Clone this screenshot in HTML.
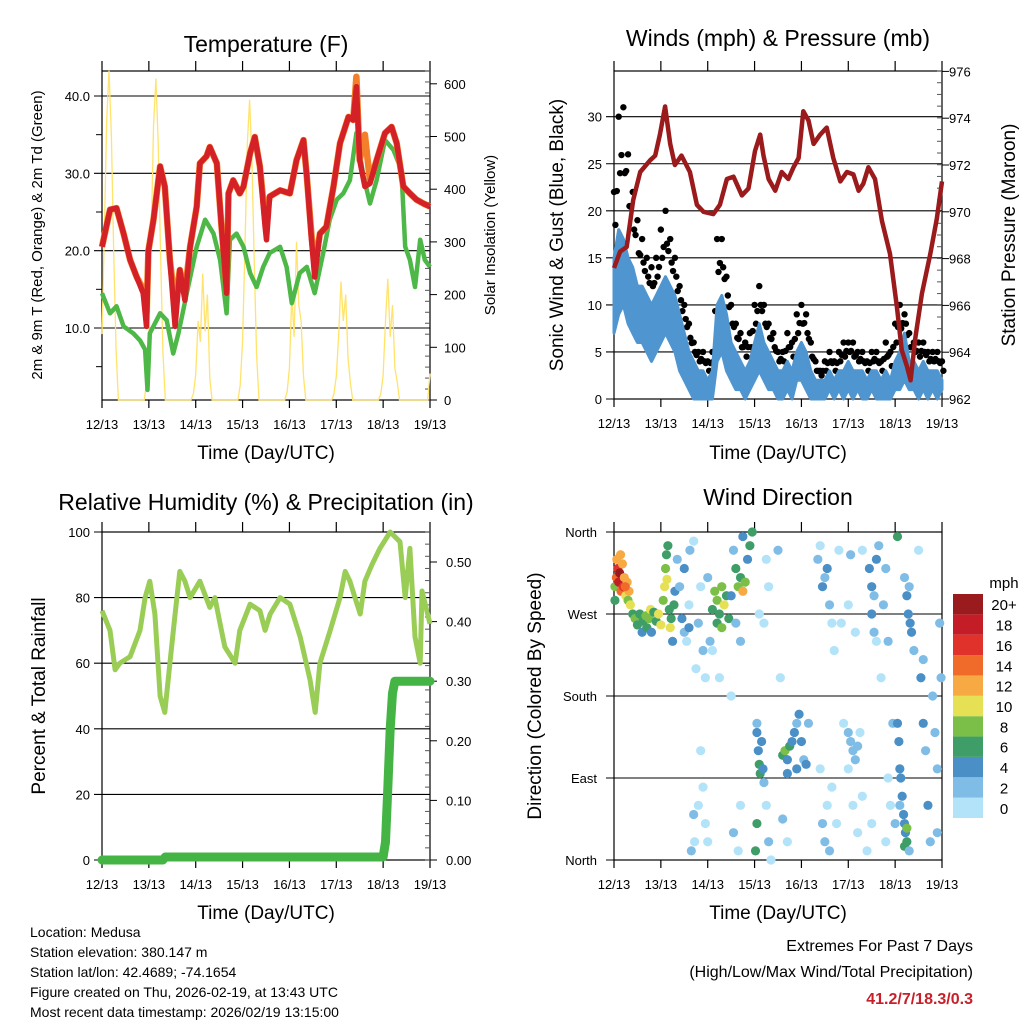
<!DOCTYPE html>
<html><head><meta charset="utf-8"><style>
body{margin:0;background:#fff}
svg{display:block;font-family:"Liberation Sans",sans-serif}
</style></head><body>
<svg id="s" width="1024" height="1024" viewBox="0 0 1024 1024">
<rect width="1024" height="1024" fill="#fff"/>
</svg>
<script>
// ---------- Temperature ----------
const tempTime=[0,.17,.31,.46,.6,.74,.88,.95,.99,1.1,1.24,1.34,1.45,1.56,1.66,1.77,1.88,2.02,2.09,2.23,2.3,2.45,2.55,2.66,2.7,2.8,2.94,3.02,3.16,3.26,3.37,3.48,3.51,3.58,3.8,4.01,4.15,4.3,4.37,4.47,4.54,4.65,4.79,4.94,5.08,5.26,5.36,5.43,5.5,5.61,5.72,5.86,6.04,6.18,6.29,6.43,6.57,6.71,6.86,7];
const tempRed=[20.5,25.3,25.5,22.2,18.8,16.6,14.5,10.2,20,24,30.9,28.3,18.8,10.2,17.5,13.6,20.5,25.7,31.3,32.2,33.4,31.3,23.1,14.5,27.4,29.1,27.4,28.3,32.6,34.7,30.9,23.1,21.4,27,27.8,27.4,31.7,34.3,29.6,21.4,16.6,22.2,23.1,28.3,33.9,37.3,36.9,41.2,31.7,28.3,28.7,31.7,35.2,36,33.9,28.3,27.4,26.6,26.1,25.7];
const tempOrange=[20.5,25.3,25.5,22.2,18.8,16.6,15,12,20,24,30.9,28.3,18.8,13,17.5,14.5,20.5,25.7,31.3,32.2,33.4,31.3,23.1,15,27.4,29.1,27.4,28.3,32.6,34.7,30.9,24,25,27,27.8,27.4,31.7,34.3,29.6,22,18,22.2,23.1,28.3,33.9,37.3,36.9,42.5,31.7,35,29,31.7,35.2,36,33.9,28.3,27.4,26.6,26.1,25.7];
const dewTime=[0,.17,.31,.46,.67,.81,.92,.97,1.02,1.24,1.38,1.52,1.63,1.81,2.02,2.2,2.38,2.52,2.66,2.73,2.87,3.02,3.16,3.3,3.44,3.58,3.8,3.94,4.05,4.22,4.37,4.54,4.72,4.86,5.01,5.15,5.29,5.43,5.58,5.72,5.86,6.04,6.22,6.39,6.47,6.57,6.68,6.79,6.89,7];
const dewPoint=[14.5,11.9,12.8,10.2,9.3,8.4,7.2,2,9.3,11.9,11,6.7,9.3,14.5,20.5,24,22.2,18.8,11.9,21.4,22.2,20.5,17.1,15.3,17.9,19.7,20.5,17.9,13.2,17.1,17.9,14.5,19.7,24,26.6,27.4,29.1,35.2,29.6,26.1,29.1,34.3,33,30.4,20.5,18.8,15.3,21.4,18.8,17.9];
// solar every 0.05 day
const solar=[125,313,531,625,500,281,94,0,0,0,0,0,0,0,0,0,0,0,0,31,
122,305,519,610,488,275,92,0,0,0,0,0,0,0,0,0,0,0,0,12,
48,150,110,240,130,200,40,0,0,0,0,0,0,0,0,0,0,0,0,28,
114,285,485,570,456,257,86,0,0,0,0,0,0,0,0,0,0,0,0,15,
60,200,120,300,180,150,45,0,0,0,0,0,0,0,0,0,0,0,0,11,
45,120,225,150,200,80,34,0,0,0,0,0,0,0,0,0,0,0,0,12,
46,150,230,120,180,60,35,0,0,0,0,0,0,0,0,0,0,0,0,0,50];
const tempTicks=[10,20,30,40];
const solarTicks=[0,100,200,300,400,500,600];
const dayLabels=["12/13","13/13","14/13","15/13","16/13","17/13","18/13","19/13"];
// ---------- Winds ----------
const pressTime=[0,.13,.27,.41,.56,.77,.88,.98,1.09,1.2,1.3,1.44,1.62,1.77,1.91,2.12,2.26,2.41,2.55,2.73,2.87,3.01,3.12,3.19,3.3,3.44,3.58,3.72,3.83,3.94,4.04,4.15,4.26,4.4,4.54,4.68,4.83,4.97,5.11,5.22,5.32,5.43,5.57,5.72,5.89,6.04,6.14,6.25,6.33,6.43,6.57,6.75,6.89,7];
const pressure=[967.6,968.3,968.5,970.5,971.7,972.2,972.4,973.3,974.5,972.9,972,972.4,971.7,970.3,970,969.9,970.3,971.4,971.5,970.7,971,972.6,973.3,972.4,971.4,970.9,971.7,971.4,971.9,972.3,974.3,973.9,972.9,973.3,973.6,972.3,971.3,971.7,971.6,970.9,971.2,971.9,971.4,969.6,968.2,965.9,964.1,963.4,962.8,964.6,966.5,968.2,969.7,971.3];
// every 0.1 day
const windLo=[7,9,10,8,7,6,6,5,4,5,6,7,6,5,3,2,1,0,0,0,0,0,4,5,3,2,1,1,0,1,2,3,2,1,1,0,0,1,0,2,2,1,0,0,0,0,1,0,1,0,1,0,1,0,0,1,0,0,0,0,1,1,2,1,1,0,1,0,1,0,1];
const windHi=[15,18,17,15,14,12,12,11,10,11,12,13,12,11,9,7,5,4,3,3,2,3,10,11,9,6,5,4,3,4,6,8,6,5,4,3,3,4,3,5,6,5,3,2,2,2,3,2,3,3,4,3,3,3,2,3,3,2,3,2,4,5,7,4,4,3,4,3,3,3,2];
const gust=[22,30,31,26,22,19,17,15,14,15,18,20,17,15,12,10,8,6,5,5,4,5,17,17,13,10,8,7,6,7,10,12,10,8,7,5,5,7,6,9,10,9,6,4,3,4,5,4,5,6,6,6,5,5,4,5,5,4,6,5,8,10,9,7,6,6,6,5,5,5,4];
const windTicks=[0,5,10,15,20,25,30];
const pressTicks=[962,964,966,968,970,972,974,976];
// ---------- RH ----------
const rhTime=[0,.17,.28,.38,.6,.81,.92,1.02,1.13,1.24,1.34,1.45,1.56,1.66,1.77,1.88,2.09,2.3,2.41,2.52,2.62,2.84,2.94,3.16,3.37,3.48,3.59,3.8,4.01,4.23,4.44,4.55,4.65,4.87,5.08,5.19,5.29,5.4,5.51,5.61,5.76,5.93,6.15,6.36,6.47,6.57,6.68,6.79,6.83,7];
const rh=[76,70,58,60,62,70,80,85,75,50,45,60,75,88,85,80,85,77,80,72,65,60,70,78,76,70,75,80,78,68,55,45,60,70,80,88,85,80,75,85,90,95,100,97,80,95,68,60,82,72];
const precipTime=[0,1.3,1.35,6.0,6.05,6.1,6.15,6.2,6.25,7];
const precip=[0,0,0.005,0.005,0.03,0.12,0.22,0.28,0.3,0.3];
const rhTicks=[0,20,40,60,80,100];
const precipTicks=[0,0.1,0.2,0.3,0.4,0.5];
// ---------- Wind direction ----------
const dirTime=[0.02,0.05,0.08,0.1,0.12,0.15,0.18,0.2,0.22,0.25,0.28,0.3,0.32,0.35,0.02,0.06,0.14,0.24,
0.4,0.45,0.5,0.55,0.6,0.62,0.68,0.7,0.75,0.78,0.8,0.85,0.9,0.95,1.0,1.05,1.08,1.1,1.12,1.15,1.13,1.18,1.2,1.22,1.25,1.28,1.3,
1.35,1.4,1.45,1.5,1.55,1.6,1.62,1.7,1.75,1.8,1.85,1.9,1.95,1.5,1.6,1.7,1.72,1.65,1.9,1.8,2.0,1.95,1.85,
2.1,2.15,2.2,2.25,2.3,2.35,2.4,2.45,2.2,2.3,2.05,2.0,2.1,2.25,
2.6,2.65,2.7,2.75,2.8,2.85,2.9,2.95,2.75,2.55,2.6,2.5,2.7,2.5,2.65,2.55,2.7,
3.05,3.08,3.1,3.12,3.15,3.18,3.05,3.02,3.05,3.2,3.25,3.3,3.35,3.2,3.25,3.3,3.1,
3.6,3.65,3.7,3.75,3.8,3.85,3.9,3.95,4.0,4.05,4.1,4.15,3.7,3.9,3.6,3.7,3.5,3.55,
4.35,4.4,4.45,4.5,4.55,4.6,4.65,4.7,4.45,4.5,4.55,4.6,4.65,4.4,4.75,4.8,4.85,4.9,
5.0,5.05,5.1,5.15,5.2,5.25,5.0,5.1,5.2,5.3,5.0,5.05,5.15,5.3,
5.45,5.5,5.55,5.6,5.65,5.5,5.55,5.6,5.7,5.75,5.8,5.85,5.4,5.5,5.8,5.9,5.85,5.95,
6.05,6.08,6.1,6.12,6.15,6.18,6.2,6.22,6.25,6.2,6.25,6.1,6.0,6.3,6.05,6.25,6.28,6.3,6.32,6.35,6.4,6.2,
6.5,6.55,6.6,6.65,6.7,6.75,6.8,6.85,6.9,6.95,6.98,6.9,6.6];
const dirDeg=[300,310,320,305,315,295,325,300,310,290,305,285,295,280,285,330,335,300,
270,265,258,270,250,262,268,255,265,275,250,272,262,270,258,285,300,320,335,345,308,275,255,265,240,280,295,
330,300,265,250,240,280,340,350,210,260,300,230,200,320,255,50,20,10,80,60,20,40,120,
275,295,285,270,300,280,290,265,260,255,240,310,230,200,
320,300,310,295,305,330,345,360,355,340,260,290,240,180,10,30,60,
140,120,105,95,130,100,40,10,150,85,60,20,0,260,330,300,270,
115,120,110,125,130,140,150,160,130,110,105,150,95,100,45,20,340,200,
330,345,300,310,320,280,260,230,40,20,60,10,80,100,40,340,260,150,
140,130,120,110,125,140,100,60,30,70,280,335,250,340,
320,300,290,330,345,270,250,240,200,280,320,240,10,40,20,60,90,150,
150,130,100,90,70,50,40,30,20,15,35,60,40,10,355,290,270,300,260,250,230,310,
340,200,150,120,60,20,180,140,100,260,200,30,220];
const dirSpeed=[8,14,16,18,20,14,12,16,12,10,12,8,12,10,6,12,12,14,
6,8,6,6,4,6,8,6,8,10,4,6,6,10,10,8,10,8,6,6,10,6,10,6,4,6,4,
2,2,4,2,0,0,2,0,0,2,0,2,0,4,4,2,0,2,0,0,0,0,0,
6,8,8,6,8,10,6,6,6,8,2,2,0,0,
6,8,6,12,8,4,6,6,4,2,2,4,2,0,0,2,0,
4,4,6,6,4,4,6,6,2,2,0,2,0,0,0,0,0,
6,8,4,6,4,4,2,4,4,2,4,2,4,4,2,0,2,0,
2,0,4,2,4,2,0,0,2,2,0,2,0,0,0,0,0,0,
2,2,2,2,2,0,0,0,0,0,0,2,0,0,
4,4,2,4,2,4,2,0,0,2,2,2,0,0,0,0,0,2,
4,4,4,4,4,4,4,4,6,6,8,2,2,2,6,4,4,2,4,4,2,2,
0,4,4,2,4,2,2,2,2,2,2,2,2];
const speedColors=["#b3e3f8","#80bde6","#4a8fc6","#3f9e68","#7bbf48","#e6e055","#f7a943","#f06a2a","#e0322a","#c41d27","#9a1b1e"];
const speedLabels=["0","2","4","6","8","10","12","14","16","18","20+"];
const dirLabels=["North","East","South","West","North"];

const NS="http://www.w3.org/2000/svg";
const svg=document.getElementById('s');
function mk(tag,attrs,parent){const e=document.createElementNS(NS,tag);for(const k in attrs)e.setAttribute(k,attrs[k]);(parent||svg).appendChild(e);return e;}
function txt(str,x,y,size,anchor,name,extra){const t=mk('text',Object.assign({x:x,y:y,'font-size':size,'text-anchor':anchor||'middle',fill:'#000'},extra||{}));t.textContent=str;


return t;}
function grp(name){const g=mk('g',{});


return g;}
function pts(ts,vs,sx,sy){return ts.map((t,i)=>sx(t).toFixed(1)+','+sy(vs[i]).toFixed(1)).join(' ');}

function frame(x0,x1,top,bot,name){
  const g=grp(name);
  mk('rect',{x:x0,y:top,width:x1-x0,height:bot-top,fill:'none',stroke:'#000','stroke-width':1.2},g);
  for(let d=0;d<=7;d++){const x=x0+d*(x1-x0)/7;
    mk('line',{x1:x,y1:top-10,x2:x,y2:top,stroke:'#000','stroke-width':1.2},g);
    mk('line',{x1:x,y1:bot,x2:x,y2:bot+8,stroke:'#000','stroke-width':1.2},g);
    txt(dayLabels[d],x,bot+29,13,'middle','x-tick-label');}
  return g;
}
function hgrid(g,x0,x1,y){mk('line',{x1:x0-8,y1:y,x2:x1,y2:y,stroke:'#000','stroke-width':1.1},g);}
function rticks(g,x1,top,bot,n){for(let i=0;i<=n;i++){const y=bot-(bot-top)*i/n;mk('line',{x1:x1-5,y1:y,x2:x1,y2:y,stroke:'#555','stroke-width':1},g);}}

// ===== Panel 1 =====
(function(){
  const x0=102,x1=430,top=71,bot=400;
  const sx=t=>x0+t*(x1-x0)/7, sy=v=>96+(40-v)*7.733, sS=v=>400-v*0.527;
  const g=frame(x0,x1,top,bot,'temperature-panel');
  tempTicks.forEach(v=>{hgrid(g,x0,x1,sy(v));txt(v.toFixed(1),x0-12,sy(v)+5,13,'end','temp-tick-label');});
  [5,15,25,35].forEach(v=>mk('line',{x1:x0-6,y1:sy(v),x2:x0,y2:sy(v),stroke:'#000'},g));
  solarTicks.forEach(v=>{mk('line',{x1:x1,y1:sS(v),x2:x1+7,y2:sS(v),stroke:'#000'},g);txt(String(v),x1+14,sS(v)+5,13,'start','solar-tick-label');});
  rticks(g,x1,top,bot,30);
  const s=mk('polyline',{points:pts(solar.map((v,i)=>i*0.05),solar,sx,sS),fill:'none',stroke:'#ffe36b','stroke-width':1.3},g);
  
  const d=mk('polyline',{points:pts(dewTime,dewPoint,sx,sy),fill:'none',stroke:'#4db848','stroke-width':4.5,'stroke-linejoin':'round'},g);
  
  const o=mk('polyline',{points:pts(tempTime,tempOrange,sx,sy),fill:'none',stroke:'#f47f2a','stroke-width':6.5,'stroke-linejoin':'round'},g);
  
  const r=mk('polyline',{points:pts(tempTime,tempRed,sx,sy),fill:'none',stroke:'#d42027','stroke-width':5.5,'stroke-linejoin':'round'},g);
  
  txt('Temperature (F)',266,52,23,'middle','temperature-title');
  txt('Time (Day/UTC)',266,459,19,'middle','x-axis-title');
  txt('2m & 9m T (Red, Orange) & 2m Td (Green)',0,0,15,'middle','temp-y-axis-title',{transform:'translate(42,235) rotate(-90)'});
  txt('Solar Insolation (Yellow)',0,0,15,'middle','solar-y-axis-title',{transform:'translate(495,235) rotate(-90)'});
})();

// ===== Panel 2 =====
(function(){
  const x0=614,x1=942,top=71,bot=399;
  const sx=t=>x0+t*(x1-x0)/7, sy=v=>399-v*9.41, sp=p=>399-(p-962)*23.4;
  const g=frame(x0,x1,top,bot,'winds-panel');
  windTicks.forEach(v=>{hgrid(g,x0,x1,sy(v));txt(String(v),x0-12,sy(v)+5,13,'end','wind-tick-label');});
  pressTicks.forEach(v=>{mk('line',{x1:x1,y1:sp(v),x2:x1+7,y2:sp(v),stroke:'#000'},g);txt(String(v),x1+7,sp(v)+5,13,'start','pressure-tick-label');});
  rticks(g,x1,top,bot,28);
  const wt=windHi.map((v,i)=>i*0.1);
  gust.forEach((v,i)=>{const c=mk('circle',{cx:sx(i*0.1),cy:sy(v),r:3.2,fill:'#000'},g);
    
    
    const c3=mk('circle',{cx:sx(i*0.1+0.03),cy:sy((v+windHi[i])/2),r:3.2,fill:'#000'},g);
    
    
    if(i<gust.length-1){const c2=mk('circle',{cx:sx(i*0.1+0.06),cy:sy((v+gust[i+1])/2*0.85),r:3.2,fill:'#000'},g);
    
    }
  });
  const wb=wt.map((t,i)=>sx(t).toFixed(1)+','+sy(windHi[i]).toFixed(1)).join(' ')+' '+wt.slice().reverse().map((t,j)=>{const i=wt.length-1-j;return sx(t).toFixed(1)+','+sy(windLo[i]).toFixed(1);}).join(' ');
  const wp=mk('polygon',{points:wb,fill:'#4f95d0',stroke:'#4f95d0','stroke-width':3,'stroke-linejoin':'round'},g);
  
  const pl=mk('polyline',{points:pts(pressTime,pressure,sx,sp),fill:'none',stroke:'#9b1a1c','stroke-width':4.5,'stroke-linejoin':'round'},g);
  
  txt('Winds (mph) & Pressure (mb)',778,46,23,'middle','winds-title');
  txt('Time (Day/UTC)',778,459,19,'middle','x-axis-title');
  txt('Sonic Wind & Gust (Blue, Black)',0,0,19,'middle','wind-y-axis-title',{transform:'translate(563,235) rotate(-90)'});
  txt('Station Pressure (Maroon)',0,0,19,'middle','pressure-y-axis-title',{transform:'translate(1015,235) rotate(-90)'});
})();

// ===== Panel 3 =====
(function(){
  const x0=102,x1=430,top=532,bot=860;
  const sx=t=>x0+t*(x1-x0)/7, sy=v=>860-v*3.28, sq=v=>860-v*596;
  const g=frame(x0,x1,top,bot,'humidity-panel');
  rhTicks.forEach(v=>{hgrid(g,x0,x1,sy(v));txt(String(v),x0-12,sy(v)+5,13,'end','rh-tick-label');});
  precipTicks.forEach(v=>{mk('line',{x1:x1,y1:sq(v),x2:x1+7,y2:sq(v),stroke:'#000'},g);txt(v.toFixed(2),x1+16,sq(v)+5,13,'start','precip-tick-label');});
  rticks(g,x1,top,bot,27);
  const r=mk('polyline',{points:pts(rhTime,rh,sx,sy),fill:'none',stroke:'#9acd55','stroke-width':5,'stroke-linejoin':'round'},g);
  
  const p=mk('polyline',{points:pts(precipTime,precip,sx,sq),fill:'none',stroke:'#44b545','stroke-width':9,'stroke-linejoin':'round','stroke-linecap':'round'},g);
  
  txt('Relative Humidity (%) & Precipitation (in)',266,510,23,'middle','humidity-title');
  txt('Time (Day/UTC)',266,919,19,'middle','x-axis-title');
  txt('Percent & Total Rainfall',0,0,19,'middle','rh-y-axis-title',{transform:'translate(45,696) rotate(-90)'});
})();

// ===== Panel 4 =====
(function(){
  const x0=614,x1=942,top=532,bot=860;
  const sx=t=>x0+t*(x1-x0)/7, sy=d=>860-d*328/360;
  const g=frame(x0,x1,top,bot,'wind-direction-panel');
  dirLabels.forEach((l,i)=>{const y=sy(i*90);hgrid(g,x0,x1,y);txt(l,x0-17,y+5,13,'end','direction-tick-label');});
  dirTime.forEach((t,i)=>{const b=Math.min(10,Math.floor(dirSpeed[i]/2));
    const c=mk('circle',{cx:sx(t),cy:sy(dirDeg[i]),r:4.6,fill:speedColors[b]},g);
    
    });
  const cb=grp('speed-colorbar');
  const h=(818-594)/11;
  speedColors.forEach((c,i)=>{const y=818-(i+1)*h;mk('rect',{x:953,y:y,width:30,height:h,fill:c},cb);
    txt(speedLabels[i],1004,y+h/2+6,15,'middle','colorbar-label');});
  txt('mph',1004,588,15,'middle','colorbar-title');
  txt('Wind Direction',778,505,23,'middle','wind-direction-title');
  txt('Time (Day/UTC)',778,919,19,'middle','x-axis-title');
  txt('Direction (Colored By Speed)',0,0,19,'middle','direction-y-axis-title',{transform:'translate(541,696) rotate(-90)'});
})();

// ===== Footer =====
["Location: Medusa","Station elevation: 380.147 m","Station lat/lon: 42.4689; -74.1654","Figure created on Thu, 2026-02-19, at 13:43 UTC","Most recent data timestamp: 2026/02/19 13:15:00"].forEach((l,i)=>txt(l,30,937+i*20,14,'start','station-info-line'));
txt('Extremes For Past 7 Days',973,951,16,'end','extremes-heading');
txt('(High/Low/Max Wind/Total Precipitation)',973,977,16,'end','extremes-subheading');
txt('41.2/7/18.3/0.3',973,1004,16,'end','extremes-values',{fill:'#c8202a','font-weight':'bold'});
</script>
</body></html>
